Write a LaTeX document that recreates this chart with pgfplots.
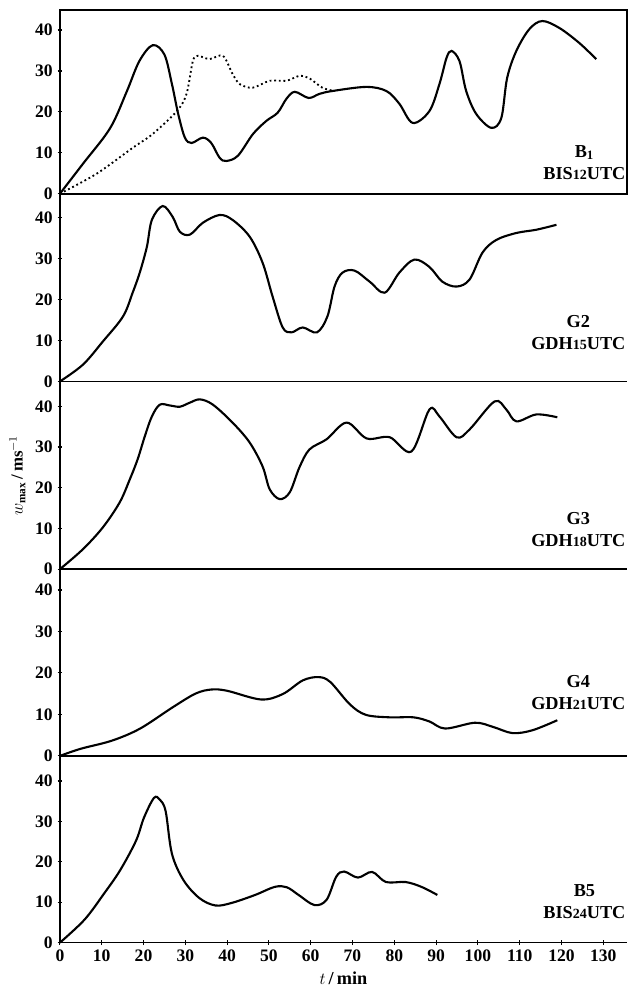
\documentclass[border=0pt]{standalone}
\usepackage{fontspec}
\setmainfont{Liberation Serif}
\usepackage{pgfplots}
\pgfplotsset{compat=1.18}

\pgfplotsset{
  panel/.style={
    scale only axis,
    width=14.2cm,
    xmin=0, xmax=135.7,
    ymin=0,
    anchor=south west,
    axis x line=bottom,
    axis y line=left,
    axis line style={-, line width=1.2pt},
    ytick={0,10,20,30,40},
    xtick=\empty,
    tick style={black, line width=0.8pt},
    major tick length=0.12cm,
    tick label style={font=\fontsize{12.5}{14}\selectfont\bfseries},
    /pgf/number format/assume math mode=true,
    clip=false,
  },
  curve/.style={black, line width=1.5pt, smooth, tension=0.55, no marks},
}
\tikzset{tag/.style={anchor=east, align=center, font=\fontsize{13}{16}\selectfont\bfseries, inner sep=1pt}}

\begin{document}
\begin{tikzpicture}
% 1 px of the reference = 0.025cm
\path (-1.5cm,0) rectangle (14.2cm,-0.1cm);
% B1
\begin{axis}[panel, at={(0,-4.85cm)}, height=4.6cm, ymax=44.9,
  axis x line=box, axis y line=box, ytick pos=left]
  \addplot[curve] coordinates {
    (0,0) (5.5,7.3) (12,16) (16,25) (19,32.4) (22.2,36.3) (25,34)
    (26.8,26.8) (28.3,19.5) (29.9,13.7) (31.5,12.4) (34.2,13.7) (36.2,12.4)
    (38.2,8.8) (39.8,8.0) (42.6,9.3) (46.2,14.6) (49.4,17.8) (52.1,19.8)
    (54.2,23.2) (56.2,24.9) (59.5,23.4) (62.1,24.4) (65.2,25.1) (73.3,26.1)
    (78.1,25.1) (81.2,22) (84.4,17.3) (88.4,20.2) (90.8,26.8) (92.5,33.2)
    (93.7,34.9) (95.6,32.4) (97.2,25.1) (99.6,19.5) (103.2,16.1) (105.6,18.5)
    (107,28.3) (109.2,34.9) (112.3,40.2) (115.4,42.2) (119.5,40.5)
    (124.3,36.8) (128.3,32.9)
  };
  \addplot[black, line width=1.3pt, dotted, smooth, tension=0.5, no marks] coordinates {
    (0,0) (8.8,4.9) (17.4,11.2) (22.2,14.6) (28,20.2) (30.3,24.4) (31.8,32.4)
    (33,33.7) (35.8,32.9) (39,33.7) (41.3,29.3) (43,26.8) (46.1,25.9)
    (50.2,27.6) (54.2,27.6) (57.3,28.8) (59.7,28.2) (62.8,25.9) (65.7,25.1)
  };
  \node[tag] at (rel axis cs:1,0.17) {B\textsubscript{1}\\BIS{\fontsize{10}{12}\selectfont 12}UTC};
\end{axis}
% G2
\begin{axis}[panel, at={(0,-9.55cm)}, height=4.7cm, ymax=45.9]
  \addplot[curve] coordinates {
    (0,0) (5.5,4.1) (10.3,9.8) (15.1,15.9) (17.4,21.7) (19.1,26.6) (20.8,32.9)
    (22,39.5) (24.6,42.9) (27,40.2) (28.7,36.6) (31.1,35.9) (34.2,38.8)
    (38.2,40.7) (41.3,39.5) (45.4,35.4) (48.5,29) (50.9,20.7) (53.3,13.2)
    (55.4,12) (58.1,13.2) (61.5,12) (64,15.9) (65.7,23.2) (67.6,26.6)
    (70.5,27.1) (74.1,24.4) (77.7,21.7) (81.2,26.6) (84.8,29.8) (88.4,28)
    (91.5,24.4) (94.9,23.2) (98,24.9) (101.1,31.5) (104.4,34.6) (109.2,36.3)
    (114,37.1) (118.8,38.3)
  };
  \node[tag] at (rel axis cs:1,0.26) {G2\\GDH{\fontsize{10}{12}\selectfont 15}UTC};
\end{axis}
% G3
\begin{axis}[panel, at={(0,-14.25cm)}, height=4.7cm, ymax=46.1,
  ylabel={$w_{\mathbf{max}}$\,/\,ms$^{-1}$},
  ylabel style={font=\fontsize{12}{14}\selectfont\bfseries}]
  \addplot[curve] coordinates {
    (0,0) (5.5,4.9) (10.3,10.3) (14.3,16.4) (16.7,22) (18.6,27) (20.3,32.6)
    (22,37.5) (23.9,40.4) (26.3,40.2) (28.7,39.9) (31.1,40.9) (33.5,41.7)
    (36.6,40.4) (41.3,36) (45.4,31.1) (48.5,25.2) (50.2,19.6) (52.6,17.2)
    (55,18.9) (57.3,25) (59.7,29.4) (63.8,31.9) (68.6,36) (73.4,32.1)
    (78.9,32.4) (84.1,28.9) (88.4,39.2) (90.8,37.5) (94.9,32.4) (98,34.3)
    (104,41.2) (106.8,39.2) (109.2,36.3) (114,38) (119,37.3)
  };
  \node[tag] at (rel axis cs:1,0.21) {G3\\GDH{\fontsize{10}{12}\selectfont 18}UTC};
\end{axis}
% G4
\begin{axis}[panel, at={(0,-18.925cm)}, height=4.675cm, ymax=45]
  \addplot[curve] coordinates {
    (0,0) (4.9,1.7) (12.5,3.7) (19.2,6.6) (26.8,11.6) (32.4,15) (36.2,16)
    (40,15.7) (48.1,13.6) (53.3,14.9) (58.1,18.2) (61.9,19) (64.7,17.8)
    (69.4,12.4) (73.2,9.9) (78.9,9.3) (84.6,9.3) (88.4,8.3) (92.2,6.6)
    (99.3,8) (103.6,7) (108.3,5.5) (113.1,6.2) (119,8.6)
  };
  \node[tag] at (rel axis cs:1,0.34) {G4\\GDH{\fontsize{10}{12}\selectfont 21}UTC};
\end{axis}
% B5
\begin{axis}[panel, at={(0,-23.6cm)}, height=4.675cm, ymax=46.2,
  xtick={0,10,...,130},
  xlabel={$t$\,/\,min},
  xlabel style={font=\fontsize{13}{15}\selectfont\bfseries}]
  \addplot[curve] coordinates {
    (0,0) (5.9,5.7) (10.6,12.2) (14.4,17.9) (18.2,25.2) (20.1,30.9)
    (22.5,35.8) (23.9,35.4) (25.3,32.5) (26.8,22) (29.6,15.4) (33.4,11)
    (37.2,9.2) (41,9.8) (46.7,11.8) (51.4,13.8) (54.3,13.7) (57.1,11.8)
    (60.9,9.3) (63.8,10.6) (66.1,16.3) (68,17.6) (71.3,16.1) (74.7,17.5)
    (78,15) (82.7,15) (86.5,13.8) (90.3,11.8)
  };
  \node[tag] at (rel axis cs:1,0.22) {B5\\BIS{\fontsize{10}{12}\selectfont 24}UTC};
\end{axis}
\end{tikzpicture}
\end{document}
